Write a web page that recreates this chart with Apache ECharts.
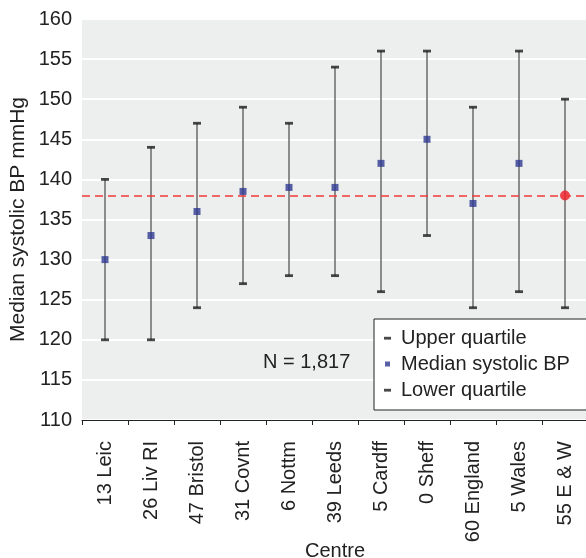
<!DOCTYPE html>
<html>
<head>
<meta charset="utf-8">
<script src="https://cdn.jsdelivr.net/npm/echarts@6/dist/echarts.min.js"></script>
<style>
  html, body { margin: 0; padding: 0; background: #ffffff; }
  #chart { width: 586px; height: 558px; }
</style>
</head>
<body>
<div id="chart"></div>
<script>
// Centres and their systolic blood pressure summaries (mmHg)
const centres = ['13 Leic', '26 Liv RI', '47 Bristol', '31 Covnt', '6 Nottm', '39 Leeds',
                 '5 Cardff', '0 Sheff', '60 England', '5 Wales', '55 E & W'];
const upperQuartile = [140, 144, 147, 149, 147, 154, 156, 156, 149, 156, 150];
const medianBP      = [130, 133, 136, 138.5, 139, 139, 142, 145, 137, 142, 138];
const lowerQuartile = [120, 120, 124, 127, 128, 128, 126, 133, 124, 126, 124];
const overallMedian = 137.9;
const sampleLabel = 'N = 1,817';
const yTicks = { min: 110, max: 160, step: 5 };

const FONT = "'Liberation Sans', Arial, Helvetica, sans-serif";
const TEXT = '#222222';

// Legend glyphs laid out in a 12 x 20 box (corner moves fix the box size)
const dashIcon = 'path://M0,0M12,20M0,8.8L7,8.8L7,11.6L0,11.6Z';
const squareIcon = 'path://M0,0M12,20M1,7.5L6,7.5L6,12.5L1,12.5Z';

const chart = echarts.init(document.getElementById('chart'), null, { renderer: 'canvas' });

const whiskerData = centres.map((c, i) => [i, lowerQuartile[i], upperQuartile[i]]);
const medianData = medianBP.map((v, i) => {
  if (i === centres.length - 1) {
    return { value: v, symbol: 'circle', symbolSize: 10, itemStyle: { color: '#ee1c25' } };
  }
  return v;
});

chart.setOption({
  animation: false,
  textStyle: { fontFamily: FONT },
  grid: {
    left: 82, right: -2, top: 19, bottom: 138,
    outerBoundsMode: 'none',
    containLabel: false,
    show: true, backgroundColor: '#edefee', borderWidth: 0
  },
  legend: {
    orient: 'vertical',
    left: 374, top: 319,
    backgroundColor: '#ffffff',
    borderColor: '#222222', borderWidth: 1,
    padding: [9, 30, 10, 10],
    itemWidth: 12, itemHeight: 20, itemGap: 6,
    textStyle: { fontFamily: FONT, fontSize: 20, color: TEXT, lineHeight: 20 },
    selectedMode: false,
    data: [
      { name: 'Upper quartile', icon: dashIcon, itemStyle: { color: '#1a1a1a' } },
      { name: 'Median systolic BP', icon: squareIcon, itemStyle: { color: '#2e3a92' } },
      { name: 'Lower quartile', icon: dashIcon, itemStyle: { color: '#1a1a1a' } }
    ]
  },
  graphic: [{
    type: 'text', left: 263, top: 352, z: 10,
    style: { text: sampleLabel, font: '20px ' + FONT, fill: TEXT }
  }],
  xAxis: {
    type: 'category',
    data: centres,
    name: 'Centre',
    nameLocation: 'middle',
    nameGap: 121,
    nameMoveOverlap: false,
    nameTextStyle: { fontSize: 20, color: TEXT, fontFamily: FONT },
    axisLine: { lineStyle: { color: '#222222', width: 1 } },
    axisTick: { show: true, length: 5, lineStyle: { color: '#222222' } },
    axisLabel: { rotate: 90, interval: 0, margin: 21, fontSize: 20, color: TEXT, fontFamily: FONT },
    splitLine: { show: false }
  },
  yAxis: {
    type: 'value',
    min: yTicks.min, max: yTicks.max, interval: yTicks.step,
    name: 'Median systolic BP mmHg',
    nameLocation: 'middle',
    nameGap: 53,
    nameMoveOverlap: false,
    nameTextStyle: { fontSize: 21, color: TEXT, fontFamily: FONT },
    axisLine: { show: false },
    axisTick: { show: false },
    axisLabel: { margin: 10, fontSize: 20, color: TEXT, fontFamily: FONT },
    splitLine: { show: true, lineStyle: { color: '#ffffff', width: 2 } }
  },
  series: [
    {
      name: 'range',
      type: 'custom',
      data: whiskerData,
      encode: { x: 0, y: [1, 2] },
      renderItem: function (params, api) {
        const lo = api.coord([api.value(0), api.value(1)]);
        const hi = api.coord([api.value(0), api.value(2)]);
        return {
          type: 'line',
          shape: { x1: lo[0], y1: lo[1], x2: hi[0], y2: hi[1] },
          style: { stroke: '#555555', lineWidth: 1.3 }
        };
      },
      markLine: {
        silent: true,
        symbol: 'none',
        label: { show: false },
        lineStyle: { color: '#f23a3a', type: [8, 5], width: 1.5 },
        data: [{ yAxis: overallMedian }]
      },
      z: 2
    },
    {
      name: 'Upper quartile',
      type: 'scatter',
      data: upperQuartile,
      symbol: 'rect',
      symbolSize: [8, 2.8],
      itemStyle: { color: '#1a1a1a' },
      z: 3
    },
    {
      name: 'Lower quartile',
      type: 'scatter',
      data: lowerQuartile,
      symbol: 'rect',
      symbolSize: [8, 2.8],
      itemStyle: { color: '#1a1a1a' },
      z: 3
    },
    {
      name: 'Median systolic BP',
      type: 'scatter',
      data: medianData,
      symbol: 'rect',
      symbolSize: 7,
      itemStyle: { color: '#2e3a92' },
      z: 4
    }
  ]
});
</script>
</body>
</html>
